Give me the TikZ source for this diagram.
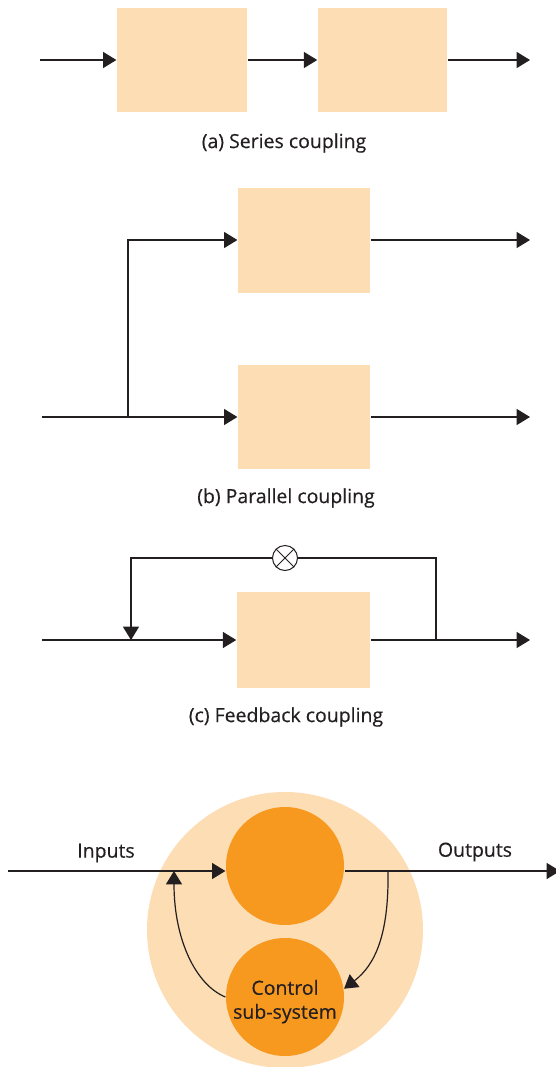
\documentclass[tikz,border=0pt]{standalone}
\usepackage{fontspec}
\setmainfont{Open Sans}
\newfontfamily\labelfont[FakeBold=0.4]{Open Sans}
\usetikzlibrary{arrows.meta}

\definecolor{peach}{RGB}{253,221,180}
\definecolor{amber}{RGB}{247,153,31}
\definecolor{ink}{RGB}{35,31,32}

\tikzset{every picture/.style={line width=0.9pt}}
\tikzset{
  blk/.style={fill=peach, draw=none, inner sep=0pt},
  flow/.style={draw=ink, -{Triangle[length=10pt,width=12pt]}},
  wire/.style={draw=ink},
  captxt/.style={font=\labelfont\fontsize{14.6}{18}\selectfont, text=ink, inner sep=0.75pt}
}

\begin{document}
\begin{tikzpicture}[x=0.75pt,y=0.75pt,yscale=-1,xscale=1]
\useasboundingbox (0,0) rectangle (556,1067);

%Series: two blocks in a row
\node [blk, minimum width=97.5pt, minimum height=78pt] (s1) at (182,60) {};
\node [blk, minimum width=97pt, minimum height=78pt] (s2) at (382.5,60) {};
\coordinate (sin) at (40,60);
\coordinate (sout) at (530,60);
\draw [flow] (sin) -- (s1);
\draw [flow] (s1) -- (s2);
\draw [flow] (s2) -- (sout);
% Text Node
\node [captxt] (scap) at (284,143) {(a) Series coupling};

%Parallel: one input split over two blocks
\node [blk, minimum width=99pt, minimum height=78.75pt] (p1) at (304,240) {};
\node [blk, minimum width=99pt, minimum height=78pt] (p2) at (304,417) {};
\coordinate (pin) at (42,417);
\coordinate (pfork) at (128,417);
\coordinate (pout1) at (530,240);
\coordinate (pout2) at (530,417);
\draw [wire] (pin) -- (pfork);
\draw [flow] (pfork) -- (p2);
\draw [flow] (pfork) |- (p1);
\draw [flow] (p1) -- (pout1);
\draw [flow] (p2) -- (pout2);
% Text Node
\node [captxt] (pcap) at (286,498) {(b) Parallel coupling};

%Feedback: output led back through the multiplier
\node [blk, minimum width=100pt, minimum height=72pt] (c1) at (303.5,640) {};
\node [circle, draw=ink, line width=0.75pt, minimum size=18.75pt, inner sep=0pt] (mult) at (285,558) {};
\draw [ink, line width=0.75pt] (mult.north west) -- (mult.south east) (mult.north east) -- (mult.south west);
\coordinate (fin) at (42,640);
\coordinate (fjoin) at (131,640);
\coordinate (fsplit) at (436,640);
\coordinate (fout) at (530,640);
\draw [wire] (fin) -- (fjoin);
\draw [flow] (fjoin) -- (c1);
\draw [wire] (c1) -- (fsplit);
\draw [flow] (fsplit) -- (fout);
\draw [wire] (fsplit) |- (mult);
\draw [flow] (mult) -| (fjoin);
% Text Node
\node [captxt] (fcap) at (286,717) {(c) Feedback coupling};

%System with its control sub-system
\node [circle, fill=peach, minimum size=207pt, inner sep=0pt] (sys) at (285,930) {};
\node [circle, fill=amber, minimum size=88.5pt, inner sep=0pt] (proc) at (285,866) {};
\node [circle, fill=amber, minimum size=88.5pt, inner sep=0pt] (ctrl) at (285,997) {};
\node [captxt, align=center] (ctrltxt) at ([yshift=3.5pt]ctrl.center) {Control\\sub-system};
\coordinate (din) at (8,871);
\coordinate (dout) at (560,871);
\coordinate (dsplit) at (388,871);
\coordinate (djoin) at (174,871);
\draw [flow] (din) -- (din -| proc.west);
\draw [flow] (dout -| proc.east) -- (dout);
\draw [flow] (dsplit) .. controls (389,935) and (375,965) .. (ctrl.8);
\draw [flow] (ctrl.180) .. controls (196,985) and (174,940) .. (djoin);
% Text Node
\node [captxt] (ilabel) at (106,853) {Inputs};
% Text Node
\node [captxt] (olabel) at (475,852) {Outputs};

\end{tikzpicture}
\end{document}
